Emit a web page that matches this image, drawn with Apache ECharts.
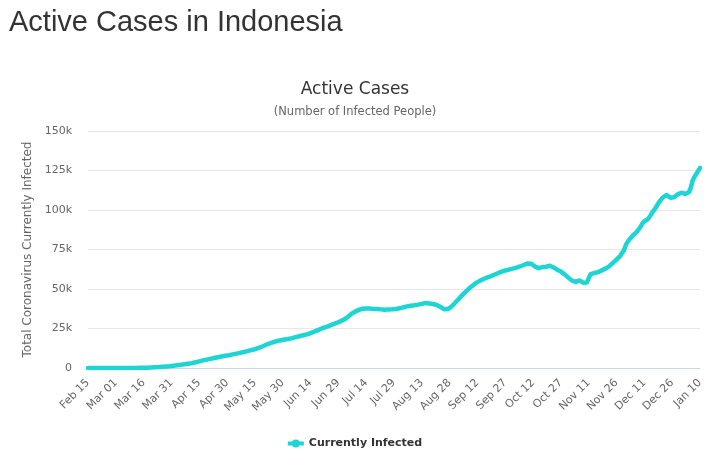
<!DOCTYPE html>
<html>
<head>
<meta charset="utf-8">
<script src="https://cdn.jsdelivr.net/npm/echarts@6/dist/echarts.min.js"></script>
<style>
  html, body { margin: 0; padding: 0; background: #fff; }
  #main { width: 710px; height: 460px; }
</style>
</head>
<body>
<div id="main"></div>
<script>
// daily active cases, Feb 15 2020 .. Jan 10 2021
var activeCases = [
    0, 0, 0, 0, 0, 0, 0, 0, 0, 0, 0, 0, 0, 0, 0,
    0, 2, 2, 2, 2, 4, 4, 6, 19, 27, 31, 32, 59, 84, 107,
    121, 155, 157, 202, 282, 329, 436, 501, 579, 674, 795, 879, 976, 1062, 1145,
    1311, 1436, 1587, 1708, 1848, 2009, 2167, 2391, 2560, 2744, 2900, 3100, 3350, 3600, 3900,
    4220, 4500, 4800, 5050, 5300, 5550, 5800, 6050, 6300, 6550, 6800, 7050, 7300, 7500, 7700,
    7900, 8100, 8350, 8600, 8850, 9100, 9350, 9600, 9850, 10100, 10400, 10700, 11000, 11300, 11600,
    11900, 12300, 12700, 13100, 13600, 14100, 14700, 15200, 15600, 16000, 16400, 16800, 17100, 17400, 17600,
    17800, 18000, 18200, 18400, 18600, 18900, 19200, 19500, 19800, 20100, 20400, 20700, 21000, 21300, 21700,
    22100, 22500, 23000, 23500, 24000, 24500, 25000, 25400, 25800, 26300, 26700, 27200, 27600, 28100, 28500,
    29000, 29500, 30000, 30600, 31300, 32200, 33200, 34200, 35000, 35700, 36300, 36800, 37200, 37500, 37600,
    37700, 37700, 37600, 37500, 37400, 37300, 37300, 37200, 37100, 37000, 36900, 37000, 37100, 37000, 37200,
    37300, 37400, 37600, 37800, 38100, 38400, 38700, 39000, 39200, 39400, 39500, 39700, 39900, 40100, 40300,
    40600, 40900, 41100, 41000, 40800, 40600, 40500, 40300, 39900, 39400, 38700, 37900, 37200, 36900, 37300,
    38000, 38900, 40000, 41300, 42600, 43900, 45200, 46400, 47600, 48700, 49800, 50800, 51800, 52800, 53700,
    54400, 55000, 55600, 56200, 56700, 57200, 57600, 58000, 58500, 59000, 59500, 60000, 60500, 61000, 61400,
    61700, 62000, 62300, 62600, 62900, 63200, 63500, 63800, 64300, 64700, 65200, 65700, 66200, 66400, 66000,
    65100, 64200, 63400, 63200, 63600, 63900, 63700, 64100, 64500, 64700, 64400, 63700, 62800, 62200, 61700,
    61000, 60200, 59300, 58300, 57200, 56200, 55300, 54700, 54500, 55000, 55400, 54800, 54000, 53700, 54100,
    57000, 59400, 59800, 60100, 60400, 60700, 61200, 61800, 62300, 62900, 63600, 64300, 65300, 66500, 67600,
    68600, 69700, 71000, 72200, 74500, 77900, 79800, 81500, 82800, 84000, 85200, 86400, 87800, 89500, 91600,
    92900, 93700, 94300, 96000, 98000, 99600, 101300, 103200, 105000, 106600, 108000, 109000, 109500, 108900, 107800,
    107400, 108000, 108900, 109900, 110600, 110900, 110500, 110200, 110400, 111200, 114000, 118500, 121000, 122800, 124800,
    126600
];

var monthNames = ['Jan', 'Feb', 'Mar', 'Apr', 'May', 'Jun', 'Jul', 'Aug', 'Sep', 'Oct', 'Nov', 'Dec'];
var yTicks = [0, 25000, 50000, 75000, 100000, 125000, 150000];

// one category per day starting Feb 15 2020
var dates = [];
for (var i = 0; i < activeCases.length; i++) {
    var d = new Date(Date.UTC(2020, 1, 15 + i));
    var dd = d.getUTCDate();
    dates.push(monthNames[d.getUTCMonth()] + ' ' + (dd < 10 ? '0' + dd : dd));
}

var lineColor = '#1fd4d4';

var myChart = echarts.init(document.getElementById('main'));

myChart.setOption({
    backgroundColor: '#fff',
    animation: false,
    title: [{
        text: 'Active Cases in Indonesia',
        left: 4,
        top: 3,
        textStyle: { fontFamily: 'Liberation Sans', fontSize: 29, fontWeight: 'normal', color: '#333' }
    }, {
        text: 'Active Cases',
        subtext: '(Number of Infected People)',
        left: 'center',
        top: 76,
        itemGap: 8,
        textStyle: { fontFamily: 'DejaVu Sans', fontSize: 17, fontWeight: 'normal', color: '#333' },
        subtextStyle: { fontFamily: 'DejaVu Sans', fontSize: 11.5, color: '#666' }
    }],
    legend: {
        left: 'center',
        top: 433,
        itemWidth: 16,
        itemHeight: 8,
        icon: 'path://M0,2H16V6H0Z M4,4A4,4,0,1,1,12,4A4,4,0,1,1,4,4Z',
        textStyle: { fontFamily: 'DejaVu Sans', fontSize: 11, fontWeight: 'bold', color: '#333' },
        data: ['Currently Infected']
    },
    grid: { left: 88, right: 10, top: 131, bottom: 92 },
    xAxis: {
        type: 'category',
        data: dates,
        boundaryGap: false,
        axisLine: { lineStyle: { color: '#ccd6eb' } },
        axisTick: { show: false },
        axisLabel: {
            interval: 14,
            rotate: 45,
            margin: 13,
            color: '#666',
            fontSize: 11,
            fontFamily: 'DejaVu Sans'
        }
    },
    yAxis: {
        type: 'value',
        min: yTicks[0],
        max: yTicks[yTicks.length - 1],
        interval: 25000,
        name: 'Total Coronavirus Currently Infected',
        nameLocation: 'middle',
        nameGap: 52,
        nameTextStyle: { color: '#666', fontSize: 12, fontFamily: 'DejaVu Sans' },
        axisLine: { show: false },
        axisTick: { show: false },
        splitLine: { lineStyle: { color: '#e6e6e6' } },
        axisLabel: {
            margin: 16,
            color: '#666',
            fontSize: 11,
            fontFamily: 'DejaVu Sans',
            formatter: function (v) { return v === 0 ? '0' : (v / 1000) + 'k'; }
        }
    },
    series: [{
        name: 'Currently Infected',
        type: 'line',
        data: activeCases,
        symbol: 'circle',
        symbolSize: 8,
        showSymbol: false,
        itemStyle: { color: lineColor },
        lineStyle: { width: 4.5, color: lineColor, cap: 'round', join: 'round' }
    }]
});
</script>
</body>
</html>
